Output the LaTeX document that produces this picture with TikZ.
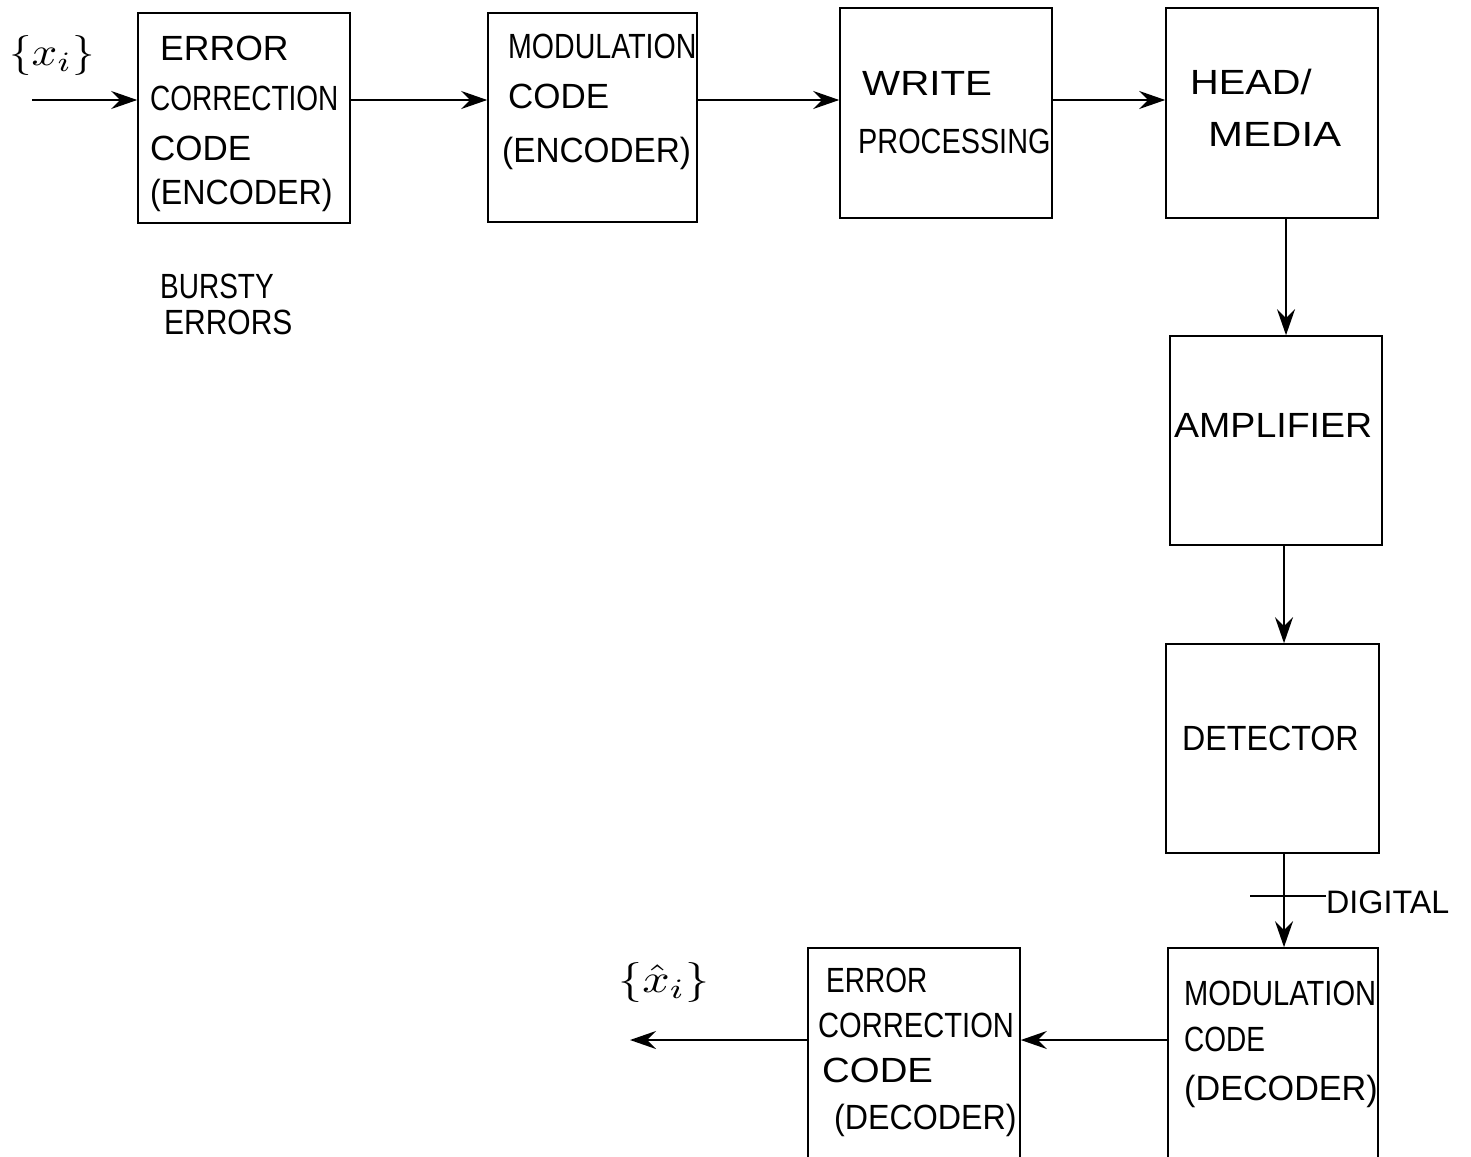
\documentclass[tikz,border=0pt]{standalone}
\usepackage{fontspec}
\usepackage{graphicx}
\setmainfont{Liberation Sans}
\usetikzlibrary{arrows.meta}
\newcommand{\hl}[2][1.1]{\scalebox{#1}[1.25]{#2}}
\begin{document}
\begin{tikzpicture}[x=1pt,y=-1pt,
  box/.style={draw, line width=1.6pt, rectangle, inner sep=0pt},
  lbl/.style={anchor=north west, align=left, inner sep=0pt, font=\fontsize{28}{50}\selectfont},
  arr/.style={line width=1.6pt, arrows={-Stealth[length=26pt,width=18pt,inset=9pt]}}]
\clip (0,0) rectangle (1471,1156);
\fill[white] (0,0) rectangle (1471,1156);
% boxes
\node[box, minimum width=212pt, minimum height=210pt] (ecc) at (244,118) {};
\node[box, minimum width=209pt, minimum height=209pt] (mod) at (592.5,117.5) {};
\node[box, minimum width=212pt, minimum height=210pt] (wp) at (946,113) {};
\node[box, minimum width=212pt, minimum height=210pt] (hm) at (1272,113) {};
\node[box, minimum width=212pt, minimum height=209pt] (amp) at (1276,440.5) {};
\node[box, minimum width=213pt, minimum height=209pt] (det) at (1272.5,748.5) {};
\node[box, minimum width=210pt, minimum height=232pt] (mdec) at (1273,1064) {};
\node[box, minimum width=212pt, minimum height=232pt] (edec) at (914,1064) {};
% texts
\node[lbl] (t1) at (150,36) {\hspace*{10pt}\hl[1.27]{ERROR}\\\hl[1.0]{CORRECTION}\\\hl[1.25]{CODE}\\[-6pt]\hl[1.15]{(ENCODER)}};
\node[lbl] (t2) at (508,34) {\hl[1.02]{MODULATION}\\\hl[1.25]{CODE}\\[4pt]\hspace*{-6pt}\hl[1.19]{(ENCODER)}};
\node[lbl] (t3) at (858,71) {\hspace*{4pt}\hl[1.44]{WRITE}\\[8pt]\hl[1.03]{PROCESSING}};
\node[lbl] (t4) at (1190,69) {\hl[1.42]{HEAD/}\\[2pt]\hspace*{18pt}\hl[1.5]{MEDIA}};
\node[lbl] (t5) at (1174,413) {\hl[1.34]{AMPLIFIER}};
\node[lbl] (t6) at (1182,726) {\hl[1.15]{DETECTOR}};
\node[lbl, font=\fontsize{28}{46}\selectfont] (t7) at (1184,981) {\hl[1.04]{MODULATION}\\\hl[1.0]{CODE}\\[3pt]\hl[1.22]{(DECODER)}};
\node[lbl, font=\fontsize{28}{45}\selectfont] (t8) at (818,968) {\hspace*{8pt}\hl[1.0]{ERROR}\\\hl[1.04]{CORRECTION}\\\hspace*{4pt}\hl[1.37]{CODE}\\[2pt]\hspace*{16pt}\hl[1.15]{(DECODER)}};
\node[lbl, font=\fontsize{28}{36}\selectfont] (bursty) at (160,274) {\hl[1.0]{BURSTY}\\\hspace*{4pt}\hl[1.07]{ERRORS}};
\node[inner sep=0pt] (xin) at (52,56) {\scalebox{4.5}[4]{$\{x_i\}$}};
\node[inner sep=0pt] (xout) at (664,982) {\scalebox{4.8}[4]{$\{\hat{x}_i\}$}};
\node[anchor=west, inner sep=0pt, font=\fontsize{26}{30}\selectfont] (dig) at (1326,902) {\hl[1.24]{DIGITAL}};
% connectors
\coordinate (in) at (32,100);
\coordinate (vx) at (1286,0);
\coordinate (vx2) at (1284,0);
\coordinate (by) at (0,1040);
\coordinate (out) at (630,1040);
\draw[arr] (in) -- (in -| ecc.west);
\draw[arr] (in -| ecc.east) -- (in -| mod.west);
\draw[arr] (in -| mod.east) -- (in -| wp.west);
\draw[arr] (in -| wp.east) -- (in -| hm.west);
\draw[arr] (vx |- hm.south) -- (vx |- amp.north);
\draw[arr] (vx2 |- amp.south) -- (vx2 |- det.north);
\draw[arr] (vx2 |- det.south) -- (vx2 |- mdec.north);
\draw[arr] (by -| mdec.west) -- (by -| edec.east);
\draw[arr] (by -| edec.west) -- (out);
\coordinate (tk) at (1250,896);
\draw[line width=1.4pt] (tk) -- (tk -| dig.west);
\end{tikzpicture}
\end{document}
